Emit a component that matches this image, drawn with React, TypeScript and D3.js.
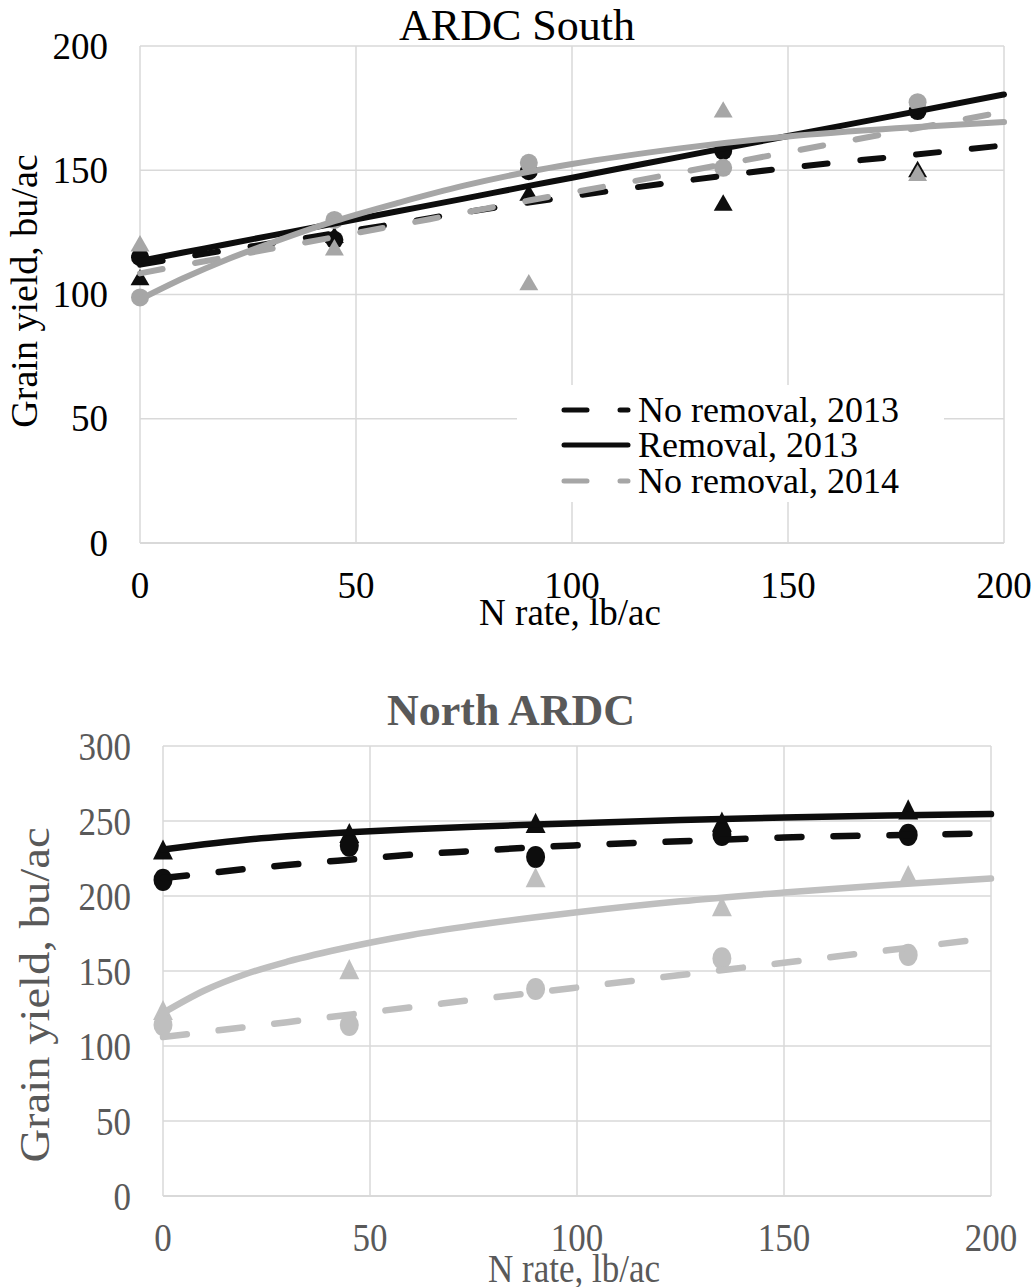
import React from 'react';
import * as d3 from 'd3';

const FONT = '"Liberation Serif", "Times New Roman", serif';

// N rates where yields were measured, and x-values where the trendlines were read
const nRates = [0, 45, 90, 135, 180];
const trendX = [0, 10, 20, 30, 45, 60, 75, 90, 100, 125, 150, 175, 200];
const xTicks = [0, 50, 100, 150, 200];

// ARDC South
const southYTicks = [0, 50, 100, 150, 200];
const southBlackCircles = [115, 122, 149.6, 157.7, 173.8];
const southBlackTriangles = [107, 124, 141, 137, 150.5];
const southGrayCircles = [98.8, 130, 153, 151, 177.4];
const southGrayTriangles = [120.6, 119, 105, 174.5, 149];
const southNoRemoval2013 = [112, 115, 117.8, 120.5, 124.6, 128.7, 133, 137, 139.5, 145.5, 151, 155.5, 160];
const southRemoval2013 = [113.5, 116.9, 120.2, 123.6, 128.6, 133.6, 138.6, 143.7, 147, 155.4, 163.8, 172.1, 180.5];
const southNoRemoval2014 = [108.5, 111.8, 115, 118.3, 123.1, 128, 132.9, 137.8, 141, 149.1, 157.3, 165.4, 173.5];
const southRemoval2014 = [98, 106.5, 114, 120.5, 129.5, 137, 143.8, 149.4, 152.5, 158.8, 163.6, 166.9, 169.4];
const legendLabels = ['No removal, 2013', 'Removal, 2013', 'No removal, 2014'];

// North ARDC
const northYTicks = [0, 50, 100, 150, 200, 250, 300];
const northBlackTriangles = [231, 242, 248.7, 249.6, 257.8];
const northBlackCircles = [210.7, 233.5, 226, 240.7, 240.7];
const northGrayTriangles = [124, 151.3, 212.5, 193.3, 214];
const northGrayCircles = [114, 114, 138, 158.4, 160.7];
const northRemoval2013 = [231, 234.5, 237.5, 239.8, 242.5, 244.5, 246.2, 247.6, 248.5, 250.6, 252.3, 253.6, 254.6];
const northNoRemoval2013 = [212, 215, 218, 220.7, 224.2, 227.5, 230, 232.5, 233.8, 236.5, 239, 240.5, 241.7];
const northRemoval2014 = [122, 137, 148, 156.2, 166, 174, 180.4, 185.9, 189.2, 196.5, 202.3, 207.4, 211.6];
const northNoRemoval2014 = [106, 109.3, 112.6, 115.9, 120.9, 125.8, 130.8, 135.7, 139, 147.3, 155.5, 163.8, 172];

type Marks = { values: number[]; color: string; shape: 'circle' | 'triangle' };
type Trend = { values: number[]; color: string; dashed: boolean };

type PanelProps = {
  title: string;
  bold: boolean;
  textColor: string;
  xRange: [number, number];
  yRange: [number, number];
  yMax: number;
  yTicks: number[];
  marks: Marks[];
  trends: Trend[];
  stretch: number;
  tickSize: number;
  titleSize: number;
  titlePos: [number, number];
  xTickBase: number;
  yTickRight: number;
  xTitlePos: [number, number];
  xTitleSize: number;
  yTitlePos: [number, number];
  yTitleSize: number;
  yTitleScale: number;
  lineWidth: number;
  dash: string;
  markSize: number;
  legend?: { box: [number, number, number, number]; rows: number[]; lineX: [number, number]; textX: number; size: number };
};

function Panel(p: PanelProps) {
  const x = d3.scaleLinear().domain([0, 200]).range(p.xRange);
  const y = d3.scaleLinear().domain([0, p.yMax]).range(p.yRange);
  const line = d3
    .line<number>()
    .x((_, i) => x(trendX[i]))
    .y((d) => y(d))
    .curve(d3.curveMonotoneX);

  // triangle with its bounding box centred on the point
  const tri = d3.symbol(d3.symbolTriangle, p.markSize * p.markSize * 0.43)();
  const ty = Math.sqrt((p.markSize * p.markSize * 0.43) / (3 * Math.sqrt(3)));
  const r = p.markSize / 2 - 0.5;

  return (
    <g fontFamily={FONT} fill={p.textColor}>
      {/* grid */}
      {p.yTicks.map((t) => (
        <line key={'h' + t} x1={p.xRange[0]} x2={p.xRange[1]} y1={y(t)} y2={y(t)} stroke="#d9d9d9" strokeWidth={t === 0 ? 2 : 1.5} />
      ))}
      {xTicks.map((t) => (
        <line key={'v' + t} x1={x(t)} x2={x(t)} y1={p.yRange[0]} y2={p.yRange[1]} stroke="#d9d9d9" strokeWidth={1.5} />
      ))}

      {/* tick labels */}
      {p.yTicks.map((t) => (
        <text key={'yl' + t} transform={`translate(${p.yTickRight},${y(t)}) scale(1,${p.stretch})`} dy="0.34em" textAnchor="end" fontSize={p.tickSize}>
          {t}
        </text>
      ))}
      {xTicks.map((t) => (
        <text key={'xl' + t} transform={`translate(${x(t)},${p.xTickBase}) scale(1,${p.stretch})`} textAnchor="middle" fontSize={p.tickSize}>
          {t}
        </text>
      ))}

      {/* titles */}
      <text x={p.titlePos[0]} y={p.titlePos[1]} textAnchor="middle" fontSize={p.titleSize} fontWeight={p.bold ? 'bold' : 'normal'}>
        {p.title}
      </text>
      <text transform={`translate(${p.xTitlePos[0]},${p.xTitlePos[1]}) scale(1,${p.stretch})`} textAnchor="middle" fontSize={p.xTitleSize}>
        N rate, lb/ac
      </text>
      <text transform={`translate(${p.yTitlePos[0]},${p.yTitlePos[1]}) rotate(-90) scale(${p.yTitleScale},1)`} textAnchor="middle" fontSize={p.yTitleSize}>
        Grain yield, bu/ac
      </text>

      {/* markers */}
      {p.marks.map((m, si) =>
        m.values.map((v, i) =>
          m.shape === 'circle' ? (
            <ellipse key={`m${si}-${i}`} cx={x(nRates[i])} cy={y(v)} rx={r} ry={r * p.stretch} fill={m.color} />
          ) : (
            <path
              key={`m${si}-${i}`}
              d={tri || ''}
              transform={`translate(${x(nRates[i])},${y(v)}) scale(1,${p.stretch}) translate(0,${ty / 2})`}
              fill={m.color}
            />
          )
        )
      )}

      {/* trendlines */}
      {p.trends.map((t, i) => (
        <path
          key={'t' + i}
          d={line(t.values) || ''}
          fill="none"
          stroke={t.color}
          strokeWidth={p.lineWidth}
          strokeLinecap="round"
          strokeDasharray={t.dashed ? p.dash : undefined}
        />
      ))}

      {/* legend */}
      {p.legend && (
        <g>
          <rect x={p.legend.box[0]} y={p.legend.box[1]} width={p.legend.box[2]} height={p.legend.box[3]} fill="#fff" />
          {legendLabels.map((lab, i) => {
            const t = p.trends[i];
            const ry = p.legend!.rows[i];
            return (
              <g key={lab}>
                <line
                  x1={p.legend!.lineX[0]}
                  x2={p.legend!.lineX[1]}
                  y1={ry}
                  y2={ry}
                  stroke={t.color}
                  strokeWidth={5}
                  strokeLinecap="round"
                  strokeDasharray={t.dashed ? p.dash : undefined}
                />
                <text x={p.legend!.textX} y={ry} dy="0.33em" fontSize={p.legend!.size} fill="#000">
                  {lab}
                </text>
              </g>
            );
          })}
        </g>
      )}
    </g>
  );
}

export default function App() {
  const black = '#0d0d0d';
  const graySouth = '#a6a6a6';
  const grayNorth = '#bfbfbf';
  return (
    <svg width={1033} height={1287} style={{ position: 'absolute', left: 0, top: 0, background: '#fff' }}>
      <rect width={1033} height={1287} fill="#fff" />
      <Panel
        title="ARDC South"
        bold={false}
        textColor="#000"
        xRange={[140, 1004]}
        yRange={[543, 46]}
        yMax={200}
        yTicks={southYTicks}
        marks={[
          { values: southBlackCircles, color: black, shape: 'circle' },
          { values: southBlackTriangles, color: black, shape: 'triangle' },
          { values: southGrayCircles, color: graySouth, shape: 'circle' },
          { values: southGrayTriangles, color: graySouth, shape: 'triangle' },
        ]}
        trends={[
          { values: southNoRemoval2013, color: black, dashed: true },
          { values: southRemoval2013, color: black, dashed: false },
          { values: southNoRemoval2014, color: graySouth, dashed: true },
          { values: southRemoval2014, color: graySouth, dashed: false },
        ]}
        stretch={1}
        tickSize={37}
        titleSize={44}
        titlePos={[517, 40]}
        xTickBase={598}
        yTickRight={108}
        xTitlePos={[570, 625]}
        xTitleSize={37}
        yTitlePos={[37, 291]}
        yTitleSize={38}
        yTitleScale={1}
        lineWidth={6}
        dash="23 33"
        markSize={19}
        legend={{ box: [517, 385, 427, 117], rows: [410, 445, 481], lineX: [564, 628], textX: 638, size: 36 }}
      />
      <Panel
        title="North ARDC"
        bold={true}
        textColor="#595959"
        xRange={[163, 991]}
        yRange={[1196, 746]}
        yMax={300}
        yTicks={northYTicks}
        marks={[
          { values: northBlackTriangles, color: black, shape: 'triangle' },
          { values: northBlackCircles, color: black, shape: 'circle' },
          { values: northGrayTriangles, color: grayNorth, shape: 'triangle' },
          { values: northGrayCircles, color: grayNorth, shape: 'circle' },
        ]}
        trends={[
          { values: northNoRemoval2013, color: black, dashed: true },
          { values: northRemoval2013, color: black, dashed: false },
          { values: northNoRemoval2014, color: grayNorth, dashed: true },
          { values: northRemoval2014, color: grayNorth, dashed: false },
        ]}
        stretch={1.17}
        tickSize={35}
        titleSize={44}
        titlePos={[511, 725]}
        xTickBase={1251}
        yTickRight={131}
        xTitlePos={[574, 1282]}
        xTitleSize={35}
        yTitlePos={[49, 995]}
        yTitleSize={42}
        yTitleScale={1.11}
        lineWidth={6.5}
        dash="24 32"
        markSize={20}
      />
    </svg>
  );
}
